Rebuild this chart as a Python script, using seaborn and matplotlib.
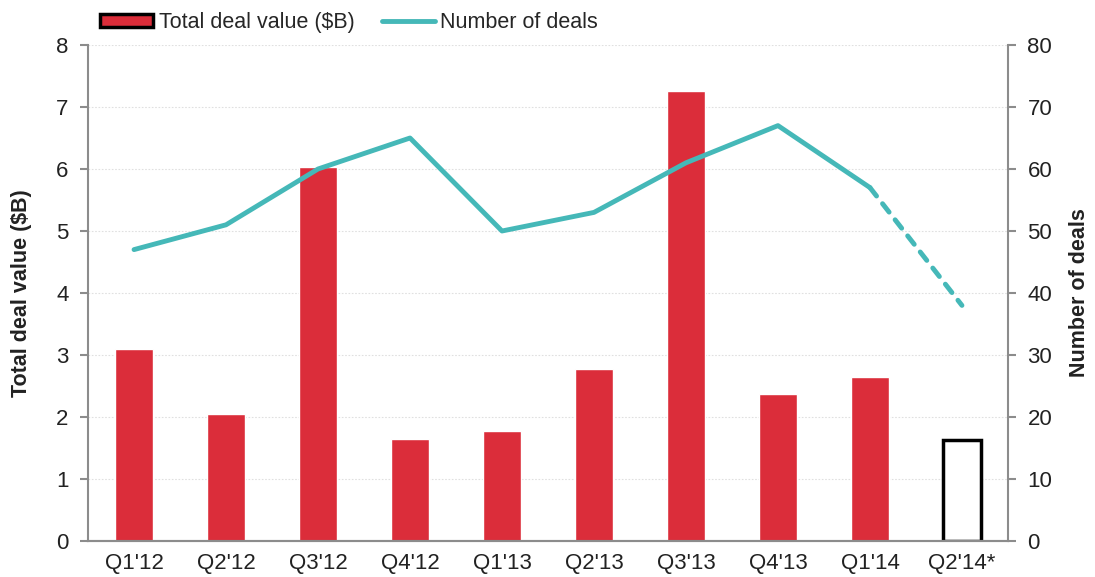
import numpy as np
import pandas as pd
import matplotlib
matplotlib.use("Agg")
import matplotlib.pyplot as plt
import seaborn as sns
from matplotlib.patches import Patch
from matplotlib.lines import Line2D

# data
quarters = ["Q1'12", "Q2'12", "Q3'12", "Q4'12", "Q1'13", "Q2'13",
            "Q3'13", "Q4'13", "Q1'14", "Q2'14*"]
deal_value = [3.10, 2.05, 6.03, 1.65, 1.77, 2.77, 7.26, 2.37, 2.65, 1.63]
deal_count = [47, 51, 60, 65, 50, 53, 61, 67, 57, 38]

RED = "#db2d3a"
TEAL = "#45b8b8"
SPINE = "#8c8c8c"
TXT = "#222222"

sns.set_style("white")
plt.rcParams["font.family"] = ["Liberation Sans", "DejaVu Sans"]

df_bar = pd.DataFrame({"quarter": quarters, "value": deal_value})
df_line = pd.DataFrame({"quarter": quarters, "deals": deal_count})

fig = plt.figure(figsize=(10.95, 5.77), dpi=100)
ax = fig.add_axes([0.0804, 0.0624, 0.8401, 0.8596])

sns.barplot(data=df_bar, x="quarter", y="value", color=RED, width=0.42,
            saturation=1, ax=ax, zorder=2)
# last quarter is partial: hollow bar
last = ax.patches[-1]
last.set_facecolor("white")
last.set_edgecolor("black")
last.set_linewidth(2.5)

ax.set_ylim(0, 8)
ax.set_xlim(-0.5, len(quarters) - 0.5)
ax.set_yticks(range(0, 9))
ax.yaxis.grid(True, linestyle=(0, (1.5, 1.5)), color="#e0e0e0", linewidth=0.8)
ax.set_axisbelow(True)
ax.set_xlabel("")
ax.set_ylabel("Total deal value ($B)", fontsize=15.5, fontweight="bold",
              color=TXT, labelpad=17)

ax2 = ax.twinx()
sns.lineplot(data=df_line.iloc[:-1], x="quarter", y="deals", color=TEAL,
             linewidth=3.5, ax=ax2, sort=False, solid_capstyle="round",
             solid_joinstyle="round")
sns.lineplot(data=df_line.iloc[-2:], x="quarter", y="deals", color=TEAL,
             linewidth=3.5, ax=ax2, sort=False, linestyle=(0, (2.2, 2.0)),
             dash_capstyle="round")
ax2.set_ylim(0, 80)
ax2.set_xlim(-0.5, len(quarters) - 0.5)
ax2.set_yticks(range(0, 81, 10))
ax2.set_xlabel("")
ax2.set_ylabel("Number of deals", fontsize=15.5, fontweight="bold",
               color=TXT, labelpad=12)

# x ticks between categories
ax.set_xticks(range(len(quarters)))
ax.set_xticklabels(quarters)
ax.set_xticks(np.arange(-0.5, len(quarters)), minor=True)
ax.tick_params(axis="x", which="major", length=0, labelsize=16,
               colors=TXT, pad=9)
ax.tick_params(axis="x", which="minor", length=6, color=SPINE, width=1.5,
               direction="out")
ax.tick_params(axis="y", length=6, color=SPINE, width=1.5, labelsize=16,
               labelcolor=TXT, direction="out", left=True, pad=8)
ax2.tick_params(axis="y", length=6, color=SPINE, width=1.5, labelsize=16,
                labelcolor=TXT, direction="out", right=True, pad=8)

for a in (ax, ax2):
    a.spines["top"].set_visible(False)
    for s in ("left", "right", "bottom"):
        a.spines[s].set_color(SPINE)
        a.spines[s].set_linewidth(1.5)
ax2.spines["left"].set_visible(False)
ax.spines["right"].set_visible(False)

handles = [
    Patch(facecolor=RED, edgecolor="black", linewidth=2.5,
          label="Total deal value ($B)"),
    Line2D([0], [0], color=TEAL, linewidth=3.5, label="Number of deals"),
]
fig.legend(handles=handles, loc="upper left", bbox_to_anchor=(0.074, 1.012),
           ncol=2, frameon=False, handlelength=2.45,
           handleheight=0.55, handletextpad=0.25, columnspacing=1.3,
           prop={"size": 15.5})

fig.savefig("out.png", dpi=100, facecolor="white")
